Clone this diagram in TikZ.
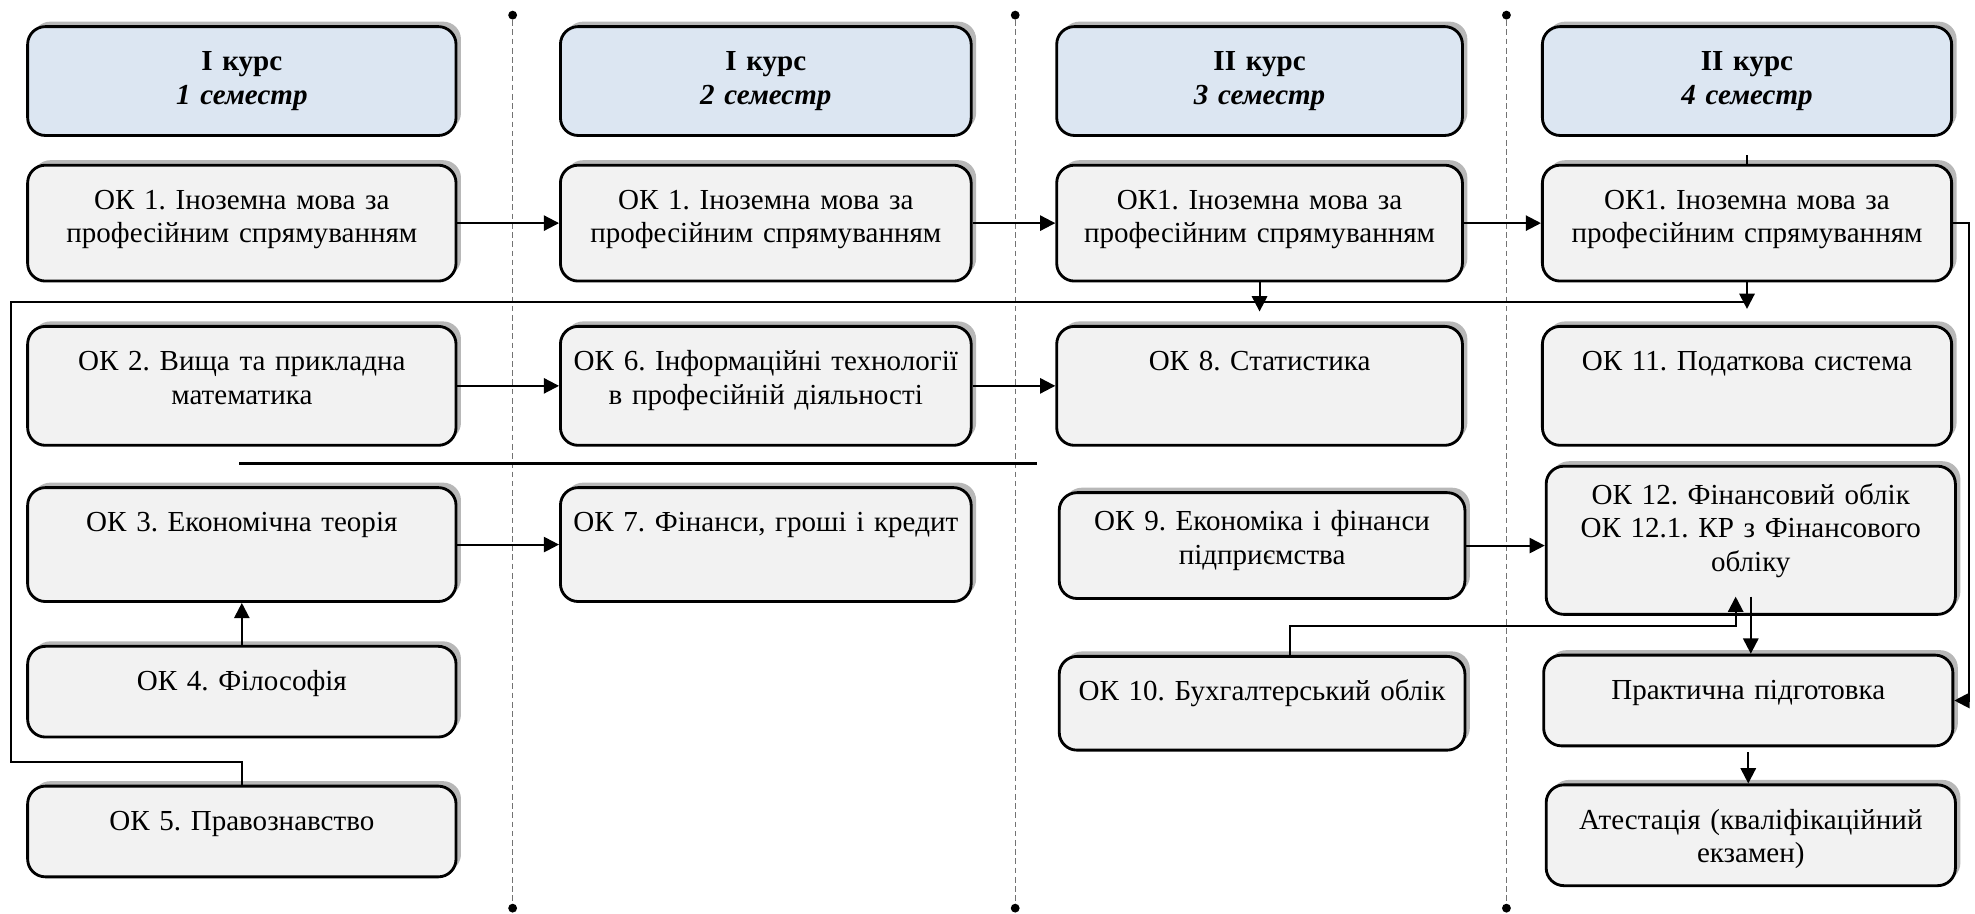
\documentclass[tikz,border=0pt]{standalone}
\usepackage{fontspec}
\setmainfont{Liberation Serif}
\frenchspacing
\usetikzlibrary{arrows.meta,shadows}
\definecolor{boxgray}{HTML}{F2F2F2}
\definecolor{headblue}{HTML}{DCE6F2}
\tikzset{
    course/.style = {rectangle,
                    rounded corners=5pt,
                    fill=boxgray,
                    draw=black,
                    text=black,
                    line width=0.8pt,
                    drop shadow={shadow xshift=1.4pt,shadow yshift=1.4pt,fill=black!28,opacity=1},
                    inner sep=0pt,
                    anchor=north,
                    align=center,
                    text height=0.44cm,
                    font=\fontsize{8.2}{9.4}\selectfont},
    head/.style =   {course,
                    fill=headblue,
                    font=\fontsize{8.2}{9.4}\selectfont\bfseries},
    colA/.style =   {text width=4.25cm},
    colB/.style =   {text width=4.075cm},
    colC/.style =   {text width=4.025cm},
    colD/.style =   {text width=4.06cm},
    dot/.style =    {circle,
                    fill=black,
                    inner sep=0pt,
                    minimum size=2.5pt},
    divider/.style = {draw=black!55,
                    line width=0.4pt,
                    dash pattern=on 1.6pt off 1pt},
    wire/.style =   {draw=black,
                    line width=0.6pt},
    link/.style =   {wire, ->},
    >={Triangle[length=4.3pt,width=4.3pt]}
}
\begin{document}
\begin{tikzpicture}[x=0.0125cm, y=-0.0125cm]
    \useasboundingbox (0,0) rectangle (1568,725);
    % semester dividers
    \foreach \x/\n in {407/1,806/2,1196/3} {
        \node[dot] (top\n) at (\x,12) {};
        \node[dot] (bot\n) at (\x,721) {};
        \draw[divider] (top\n) -- (bot\n);
    }
    % headers
    \node[head,colA]   (semA) [text depth=0.64cm] at (192,20)   {I курс\\\textit{1 семестр}};
    \node[head,colB]   (semB) [text depth=0.64cm] at (608,20)   {I курс\\\textit{2 семестр}};
    \node[head,colC]   (semC) [text depth=0.64cm] at (1000,20)  {II курс\\\textit{3 семестр}};
    \node[head,colD]   (semD) [text depth=0.64cm] at (1387,20)  {II курс\\\textit{4 семестр}};
    % disciplines
    \node[course,colA] (ok1a) [text depth=0.71cm] at (192,130)  {ОК 1. Іноземна мова за\\професійним спрямуванням};
    \node[course,colB] (ok1b) [text depth=0.71cm] at (608,130)  {ОК 1. Іноземна мова за\\професійним спрямуванням};
    \node[course,colC] (ok1c) [text depth=0.71cm] at (1000,130) {ОК1. Іноземна мова за\\професійним спрямуванням};
    \node[course,colD] (ok1d) [text depth=0.71cm] at (1387,130) {ОК1. Іноземна мова за\\професійним спрямуванням};
    \node[course,colA] (ok2)  [text depth=0.74cm] at (192,258)  {ОК 2. Вища та прикладна\\математика};
    \node[course,colB] (ok6)  [text depth=0.74cm] at (608,258)  {ОК 6. Інформаційні технології\\в професійній діяльності};
    \node[course,colC] (ok8)  [text depth=0.74cm] at (1000,258) {ОК 8. Статистика};
    \node[course,colD] (ok11) [text depth=0.74cm] at (1387,258) {ОК 11. Податкова система};
    \node[course,colA] (ok3)  [text depth=0.69cm] at (192,386)  {ОК 3. Економічна теорія};
    \node[course,colB] (ok7)  [text depth=0.69cm] at (608,386)  {ОК 7. Фінанси, гроші і кредит};
    \node[course,colC] (ok9)  [text height=0.38cm,text depth=0.67cm] at (1002,390) {ОК 9. Економіка і фінанси\\підприємства};
    \node[course,colD] (ok12) [text height=0.38cm,text depth=1.09cm] at (1390,369) {ОК 12. Фінансовий облік\\ОК 12.1. КР з Фінансового\\обліку};
    \node[course,colA] (ok4)  [text depth=0.46cm] at (192,512)  {ОК 4. Філософія};
    \node[course,colA] (ok5)  [text depth=0.46cm] at (192,623)  {ОК 5. Правознавство};
    \node[course,colC] (ok10) [text depth=0.49cm] at (1002,520) {ОК 10. Бухгалтерський облік};
    \node[course,colD] (prac) [text depth=0.46cm] at (1388,519) {Практична підготовка};
    \node[course,colD] (atest) [text depth=0.56cm] at (1390,622) {Атестація (кваліфікаційний\\екзамен)};
    % connectors
    \path[link] (ok1a) edge (ok1b)
                (ok1b) edge (ok1c)
                (ok1c) edge (ok1d)
                (ok2)  edge (ok6)
                (ok6)  edge (ok8)
                (ok3)  edge (ok7)
                (ok4)  edge (ok3);
    \draw[link] (ok9.east) -- (ok9.east -| ok12.west);
    \draw[link] (ok1c.south) -- ++(0,23);
    \draw[link] (ok1d.south) -- ++(0,21);
    \draw[wire] (ok1d.north) -- ++(0,-7);
    \coordinate (loopL) at (9,240);
    \coordinate (loopR) at (loopL -| ok1d.south);
    \draw[wire] (ok5.north) -- ++(0,-18) -| (loopL) -- (loopR);
    \draw[link] (ok1d.east) -- ++(13,0) |- (prac.east);
    \draw[link] ([xshift=0.275cm]ok10.north) -- ++(0,-23) -| ([xshift=-0.15cm,yshift=0.19cm]ok12.south);
    \draw[link] ([yshift=0.19cm]ok12.south) -- (ok12.south |- prac.north);
    \draw[link] ([yshift=-0.05cm]prac.south) -- (prac.south |- atest.north);
    \coordinate (sepL) at (190,368);
    \coordinate (sepR) at (823,368);
    \draw[wire] (sepL) -- (sepR);
\end{tikzpicture}
\end{document}
